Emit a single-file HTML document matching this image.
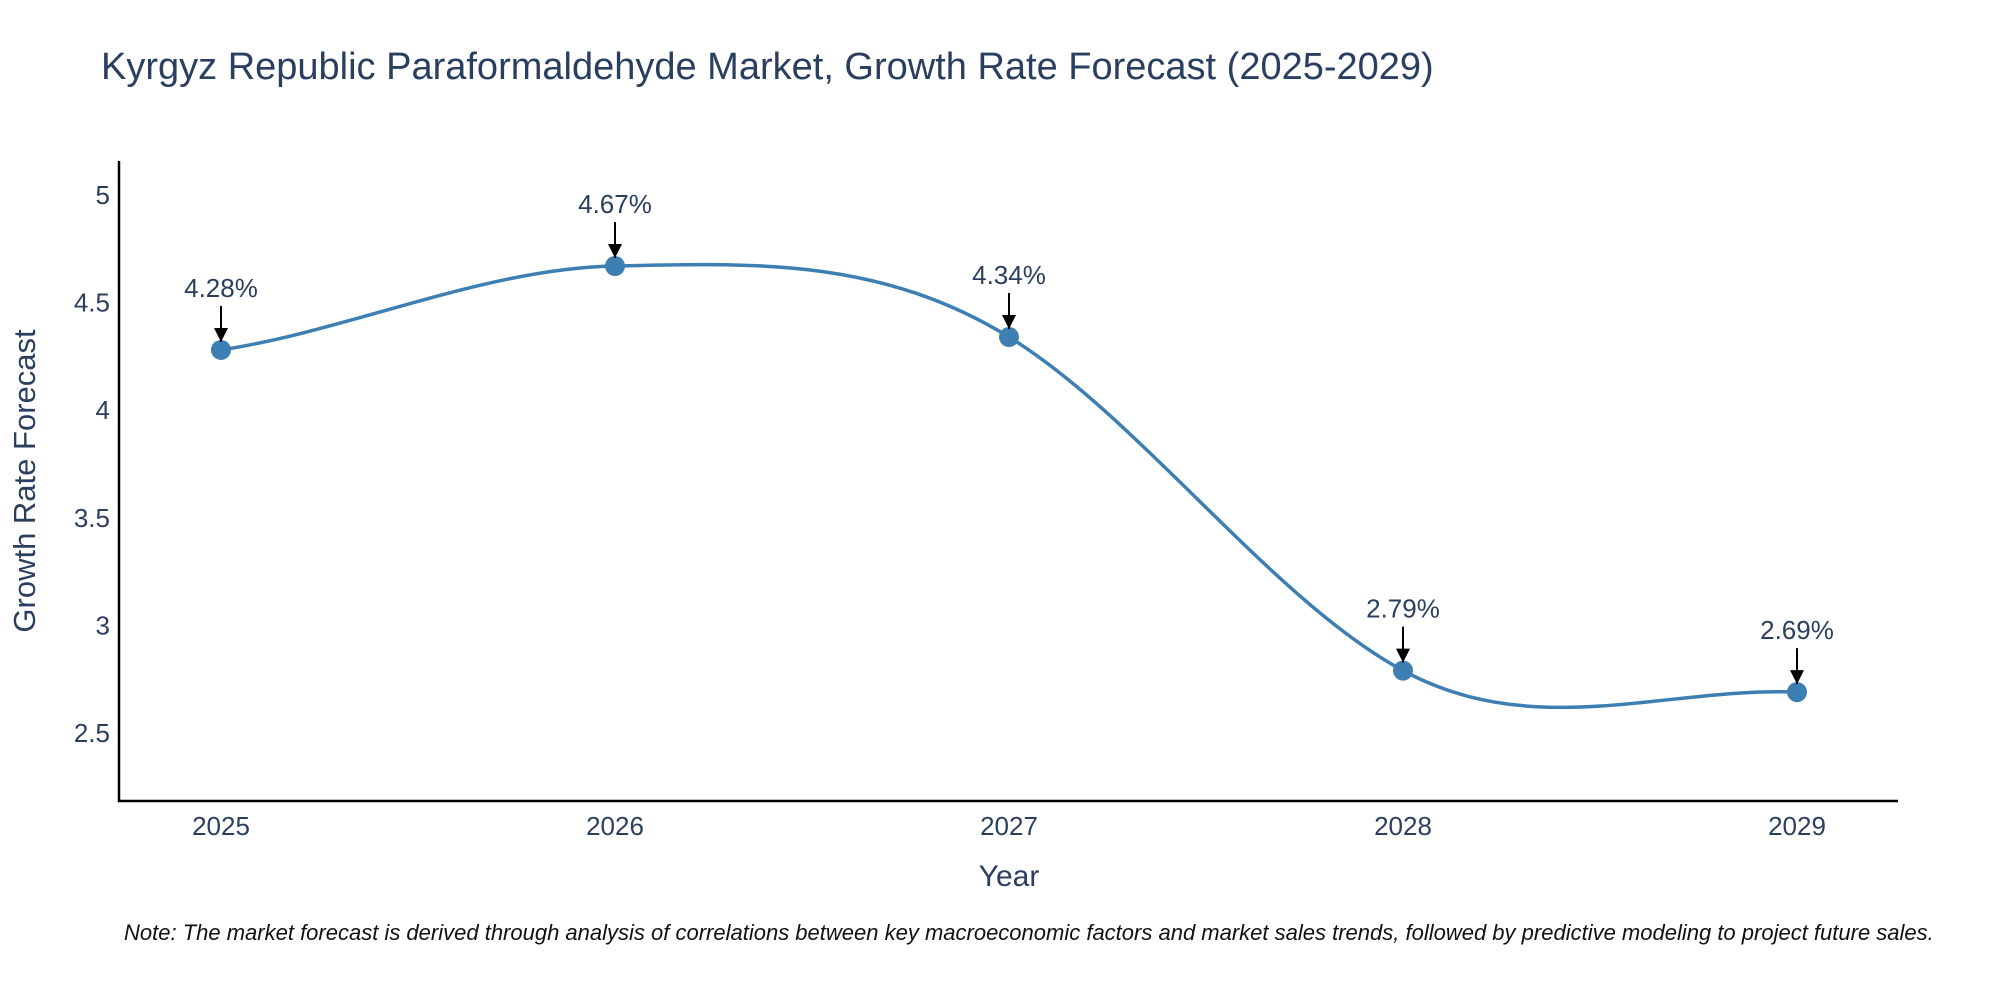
<!DOCTYPE html>
<html><head><meta charset="utf-8"><style>
body{margin:0;background:#fff;}
svg{display:block;font-family:"Liberation Sans",Arial,sans-serif;}
</style></head><body>
<svg id="chart" width="2000" height="1000" viewBox="0 0 2000 1000">
<defs><marker id="ah" viewBox="0 0 10 10" refX="10" refY="5" markerWidth="15" markerHeight="14" markerUnits="userSpaceOnUse" orient="auto"><path d="M0,0 L10,5 L0,10 z" fill="#000"/></marker></defs>
<text x="101" y="79" font-size="38" fill="#2a3f5f">Kyrgyz Republic Paraformaldehyde Market, Growth Rate Forecast (2025-2029)</text>
<g id="yticks"></g><g id="xticks"></g>
<line x1="119" y1="161" x2="119" y2="802" stroke="#000" stroke-width="2.5"/>
<line x1="118" y1="801" x2="1898" y2="801" stroke="#000" stroke-width="2.5"/>
<path id="line" fill="none" stroke="#3d7fb2" stroke-width="3.5"/>
<g id="pts"></g>
<text x="1009" y="886" font-size="30" fill="#2a3f5f" text-anchor="middle">Year</text>
<text transform="translate(35,481) rotate(-90)" font-size="31" fill="#2a3f5f" text-anchor="middle">Growth Rate Forecast</text>
<text x="124" y="940" font-size="22" font-style="italic" fill="#111">Note: The market forecast is derived through analysis of correlations between key macroeconomic factors and market sales trends, followed by predictive modeling to project future sales.</text>
</svg>
<script>
const years=[2025,2026,2027,2028,2029];
const values=[4.28,4.67,4.34,2.79,2.69];
const labels=["4.28%","4.67%","4.34%","2.79%","2.69%"];
const yTicks=[2.5,3,3.5,4,4.5,5];
const yTickLabels=["2.5","3","3.5","4","4.5","5"];
const NS="http://www.w3.org/2000/svg";
const xs=y=>221+(y-2025)*394;
const ys=v=>733-(v-2.5)*215.2;
function mk(t,a,p){const e=document.createElementNS(NS,t);for(const k in a)e.setAttribute(k,a[k]);p.appendChild(e);return e;}
const yt=document.getElementById('yticks');
yTicks.forEach((v,i)=>{const t=mk('text',{x:110,y:ys(v)+9,'font-size':26,fill:'#2a3f5f','text-anchor':'end'},yt);t.textContent=yTickLabels[i];

});
const xt=document.getElementById('xticks');
years.forEach(y=>{const t=mk('text',{x:xs(y),y:835,'font-size':26,fill:'#2a3f5f','text-anchor':'middle'},xt);t.textContent=y;

});
const P=years.map((y,i)=>[xs(y),ys(values[i])]);
let d=`M${P[0][0]},${P[0][1]}`;const s=0.2;
for(let i=0;i<P.length-1;i++){const p0=P[Math.max(0,i-1)],p1=P[i],p2=P[i+1],p3=P[Math.min(P.length-1,i+2)];
const m1=(i==0)?(p2[1]-p1[1])*2*s*0.6:(p2[1]-p0[1])*s;
const m2=(i==P.length-2)?(p2[1]-p1[1])*2*s*0.6:(p3[1]-p1[1])*s;
const c1=[p1[0]+(p2[0]-p1[0])/3,p1[1]+m1];
const c2=[p2[0]-(p2[0]-p1[0])/3,p2[1]-m2];
d+=` C${c1[0]},${c1[1]} ${c2[0]},${c2[1]} ${p2[0]},${p2[1]}`;}
document.getElementById('line').setAttribute('d',d);
const g=document.getElementById('pts');
P.forEach((p,i)=>{const c=mk('circle',{cx:p[0],cy:p[1],r:10,fill:'#3d7fb2'},g);


const a=mk('line',{x1:p[0],y1:p[1]-44,x2:p[0],y2:p[1]-8,stroke:'#000','stroke-width':2,'marker-end':'url(#ah)'},g);


const t=mk('text',{x:p[0],y:p[1]-53,'font-size':26,fill:'#2a3f5f','text-anchor':'middle'},g);t.textContent=labels[i];

});
</script>
</body></html>
